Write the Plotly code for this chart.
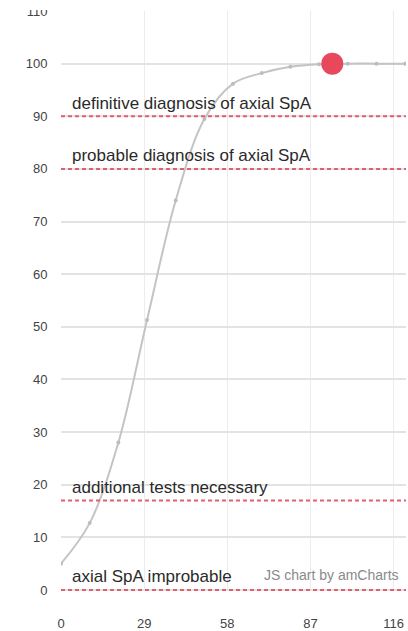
import plotly.graph_objects as go

# Data
x_vals = [0, 10, 20, 30, 40, 50, 60, 70, 80, 90, 100, 110, 120]
y_vals = [5, 12.7, 28, 51.3, 74, 89.5, 96.2, 98.2, 99.4, 99.9, 100, 100, 100]
patient_x = [94.6]
patient_y = [100]

threshold_vals = [90, 80, 17, 0]
threshold_labels = ["definitive diagnosis of axial SpA",
                    "probable diagnosis of axial SpA",
                    "additional tests necessary",
                    "axial SpA improbable"]

x_ticks = [0, 29, 58, 87, 116]
y_ticks = [0, 10, 20, 30, 40, 50, 60, 70, 80, 90, 100, 110]

fig = go.Figure()

fig.add_trace(go.Scatter(
    x=x_vals, y=y_vals, mode="lines+markers",
    line=dict(color="#c4c4c4", width=2, shape="spline", smoothing=1),
    marker=dict(size=4, color="#bdbdbd"),
    hoverinfo="skip", showlegend=False))

fig.add_trace(go.Scatter(
    x=patient_x, y=patient_y, mode="markers",
    marker=dict(size=22, color="#e8485c", line=dict(width=0)),
    showlegend=False))

shapes = []
annotations = []
for v, lab in zip(threshold_vals, threshold_labels):
    shapes.append(dict(type="line", xref="paper", x0=0, x1=1, yref="y", y0=v, y1=v,
                       line=dict(color="#e0606c", width=2, dash="4px,3px"), layer="above"))
    annotations.append(dict(text=lab, xref="paper", x=0.025, xanchor="left",
                            yref="y", y=v, yanchor="middle", yshift=13, showarrow=False,
                            font=dict(family="Liberation Sans, Arial, sans-serif", size=17, color="#2a2a2a")))

annotations.append(dict(text="JS chart by amCharts", xref="paper", x=0.985, xanchor="right",
                        yref="paper", y=0.028, yanchor="middle", showarrow=False,
                        font=dict(family="Liberation Sans, Arial, sans-serif", size=14, color="#8a8a8a")))

# white band emulating the crop at the top
shapes.append(dict(type="rect", xref="paper", yref="paper", x0=-0.2, x1=1.05,
                   y0=1.0018, y1=1.03, fillcolor="white", line=dict(width=0), layer="above"))

fig.update_layout(
    width=408, height=631,
    margin=dict(l=61, r=2, t=11, b=40, autoexpand=False),
    paper_bgcolor="white", plot_bgcolor="white",
    shapes=shapes, annotations=annotations,
    font=dict(family="Liberation Sans, Arial, sans-serif", size=13, color="#555"),
    xaxis=dict(range=[0, 120.3], tickvals=x_ticks, ticktext=[str(t) for t in x_ticks],
               showgrid=True, gridcolor="#ececec", gridwidth=1, zeroline=False,
               showline=False, ticks="outside", ticklen=20, tickcolor="rgba(0,0,0,0)",
               tickfont=dict(size=13, color="#444"), automargin=False),
    yaxis=dict(range=[-0.2, 110], tickvals=y_ticks, ticktext=[str(t) for t in y_ticks],
               showgrid=True, gridcolor="#e3e3e3", gridwidth=2, zeroline=False,
               showline=False, ticks="outside", ticklen=10, tickcolor="rgba(0,0,0,0)",
               tickfont=dict(size=13, color="#444"), automargin=False),
)

fig.write_html("out.html", config={"displayModeBar": False},
               post_script="document.body.style.margin='0';document.body.style.overflow='hidden';")
